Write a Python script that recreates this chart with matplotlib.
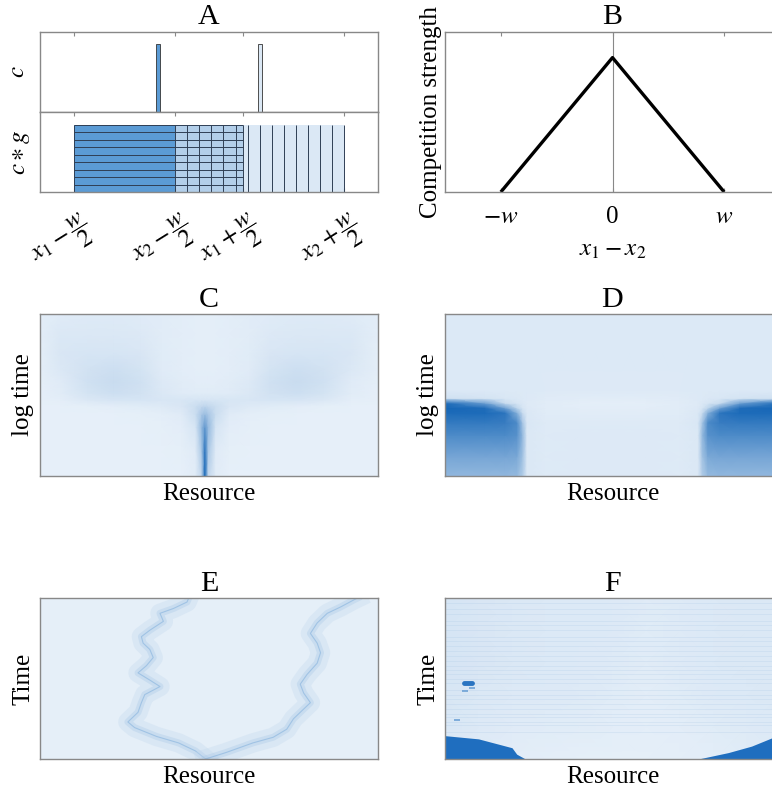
import numpy as np
import matplotlib
matplotlib.use('Agg')
import matplotlib.pyplot as plt
from matplotlib.colors import LinearSegmentedColormap
from matplotlib.transforms import ScaledTranslation
from matplotlib.mathtext import MathTextParser

plt.rcParams['font.family'] = ['Liberation Serif', 'DejaVu Serif']
plt.rcParams['mathtext.fontset'] = 'stix'
plt.rcParams['font.size'] = 18

# ---------------- data ----------------
# panel A: two consumers at x1, x2 with niche width w
x1, x2, w = 0.35, 0.65, 0.5
c_height = 0.85
cg_height = 0.84
a_ticks = [x1 - w / 2, x2 - w / 2, x1 + w / 2, x2 + w / 2]
a_names = [('x_1', '-'), ('x_2', '-'), ('x_1', '+'), ('x_2', '+')]

# panel B: competition kernel
b_x = [-1, 0, 1]
b_y = [0, 0.84, 0]
b_ticklabels = [r'$-w$', '0', r'$w$']

# panel C: density (log time vs resource), node values
xs_c = [0.00, 0.06, 0.14, 0.22, 0.30, 0.36, 0.42, 0.46, 0.478, 0.488, 0.498, 0.52, 0.56, 0.62, 0.68, 0.76, 0.84, 0.92, 1.00]
ys_c = [0.00, 0.15, 0.30, 0.38, 0.43, 0.47, 0.51, 0.58, 0.66, 0.76, 0.88, 1.00]
vals_c = [
    [0.02, 0.02, 0.02, 0.02, 0.02, 0.02, 0.02, 0.04, 0.18, 0.92, 0.18, 0.04, 0.02, 0.02, 0.02, 0.02, 0.02, 0.02, 0.02],
    [0.02, 0.02, 0.02, 0.02, 0.02, 0.02, 0.025, 0.05, 0.28, 0.85, 0.28, 0.05, 0.025, 0.02, 0.02, 0.02, 0.02, 0.02, 0.02],
    [0.02, 0.02, 0.02, 0.02, 0.022, 0.025, 0.035, 0.09, 0.38, 0.62, 0.38, 0.09, 0.035, 0.025, 0.022, 0.02, 0.02, 0.02, 0.02],
    [0.02, 0.02, 0.02, 0.022, 0.025, 0.03, 0.05, 0.14, 0.30, 0.36, 0.30, 0.14, 0.05, 0.03, 0.025, 0.022, 0.02, 0.02, 0.02],
    [0.02, 0.02, 0.025, 0.035, 0.045, 0.055, 0.08, 0.14, 0.18, 0.20, 0.18, 0.14, 0.08, 0.055, 0.045, 0.035, 0.025, 0.02, 0.02],
    [0.02, 0.03, 0.07, 0.09, 0.09, 0.085, 0.085, 0.09, 0.09, 0.09, 0.09, 0.09, 0.085, 0.085, 0.09, 0.09, 0.07, 0.03, 0.02],
    [0.02, 0.04, 0.10, 0.13, 0.11, 0.07, 0.05, 0.045, 0.045, 0.045, 0.045, 0.045, 0.05, 0.07, 0.11, 0.13, 0.10, 0.04, 0.02],
    [0.025, 0.05, 0.12, 0.15, 0.12, 0.06, 0.04, 0.035, 0.035, 0.035, 0.035, 0.035, 0.04, 0.06, 0.12, 0.15, 0.12, 0.05, 0.025],
    [0.03, 0.07, 0.11, 0.13, 0.10, 0.05, 0.035, 0.03, 0.03, 0.03, 0.03, 0.03, 0.035, 0.05, 0.10, 0.13, 0.11, 0.07, 0.03],
    [0.03, 0.08, 0.09, 0.09, 0.08, 0.045, 0.035, 0.03, 0.03, 0.03, 0.03, 0.03, 0.035, 0.045, 0.08, 0.09, 0.09, 0.08, 0.03],
    [0.035, 0.07, 0.07, 0.07, 0.06, 0.04, 0.035, 0.03, 0.03, 0.03, 0.03, 0.03, 0.035, 0.04, 0.06, 0.07, 0.07, 0.07, 0.035],
    [0.035, 0.05, 0.055, 0.055, 0.05, 0.04, 0.035, 0.03, 0.03, 0.03, 0.03, 0.03, 0.035, 0.04, 0.05, 0.055, 0.055, 0.05, 0.035],
]

# panel D
xs_d = [0.00, 0.12, 0.18, 0.215, 0.232, 0.245, 0.30, 0.40, 0.50, 0.60, 0.70, 0.755, 0.768, 0.785, 0.82, 0.88, 1.00]
ys_d = [0.00, 0.12, 0.25, 0.33, 0.39, 0.42, 0.45, 0.48, 0.53, 1.00]
vals_d = [
    [0.40, 0.40, 0.40, 0.38, 0.25, 0.07, 0.055, 0.06, 0.06, 0.06, 0.055, 0.07, 0.25, 0.38, 0.40, 0.40, 0.40],
    [0.52, 0.52, 0.52, 0.50, 0.32, 0.07, 0.055, 0.06, 0.06, 0.06, 0.055, 0.07, 0.32, 0.50, 0.52, 0.52, 0.52],
    [0.70, 0.70, 0.70, 0.66, 0.38, 0.07, 0.055, 0.06, 0.06, 0.06, 0.055, 0.07, 0.38, 0.66, 0.70, 0.70, 0.70],
    [0.82, 0.82, 0.80, 0.70, 0.30, 0.075, 0.055, 0.055, 0.055, 0.055, 0.055, 0.075, 0.30, 0.70, 0.80, 0.82, 0.82],
    [0.92, 0.92, 0.85, 0.45, 0.15, 0.07, 0.045, 0.04, 0.04, 0.04, 0.045, 0.07, 0.15, 0.45, 0.85, 0.92, 0.92],
    [0.95, 0.90, 0.55, 0.20, 0.09, 0.06, 0.04, 0.035, 0.035, 0.035, 0.04, 0.06, 0.09, 0.20, 0.55, 0.90, 0.95],
    [0.90, 0.55, 0.15, 0.09, 0.07, 0.055, 0.04, 0.03, 0.03, 0.03, 0.04, 0.055, 0.07, 0.09, 0.15, 0.55, 0.90],
    [0.12, 0.10, 0.075, 0.07, 0.065, 0.06, 0.05, 0.04, 0.04, 0.04, 0.05, 0.06, 0.065, 0.07, 0.075, 0.10, 0.12],
    [0.065, 0.065, 0.065, 0.065, 0.065, 0.065, 0.06, 0.06, 0.06, 0.06, 0.06, 0.065, 0.065, 0.065, 0.065, 0.065, 0.065],
    [0.065, 0.065, 0.065, 0.065, 0.065, 0.065, 0.065, 0.065, 0.065, 0.065, 0.065, 0.065, 0.065, 0.065, 0.065, 0.065, 0.065],
]

# panel E: two branches (time, resource)
left_t = [0.0, 0.05, 0.10, 0.14, 0.195, 0.23, 0.29, 0.35, 0.40, 0.45, 0.49, 0.535, 0.58, 0.63, 0.68, 0.72, 0.76, 0.80, 0.855, 0.905, 0.935, 0.975, 1.0]
left_x = [0.49, 0.46, 0.41, 0.345, 0.28, 0.26, 0.29, 0.30, 0.31, 0.355, 0.325, 0.29, 0.315, 0.335, 0.325, 0.305, 0.30, 0.325, 0.365, 0.355, 0.395, 0.435, 0.44]
right_t = [0.0, 0.04, 0.10, 0.135, 0.185, 0.25, 0.31, 0.35, 0.41, 0.465, 0.525, 0.595, 0.66, 0.72, 0.78, 0.845, 0.905, 0.945, 0.99, 1.0]
right_x = [0.49, 0.55, 0.63, 0.69, 0.73, 0.75, 0.78, 0.80, 0.78, 0.77, 0.79, 0.82, 0.83, 0.82, 0.80, 0.82, 0.85, 0.89, 0.93, 0.94]

# panel F: background, dark corners, streaks and spots
xs_f = [0.0, 0.1, 0.2, 0.3, 0.4, 0.5, 0.6, 0.7, 0.8, 0.9, 1.0]
ys_f = [0.0, 0.2, 0.4, 0.6, 0.8, 1.0]
vals_f = [
    [0.06, 0.045, 0.035, 0.03, 0.025, 0.025, 0.025, 0.03, 0.035, 0.045, 0.055],
    [0.075, 0.06, 0.05, 0.045, 0.04, 0.035, 0.03, 0.035, 0.045, 0.055, 0.065],
    [0.085, 0.07, 0.06, 0.06, 0.055, 0.045, 0.035, 0.045, 0.06, 0.065, 0.07],
    [0.09, 0.08, 0.07, 0.065, 0.06, 0.055, 0.04, 0.055, 0.065, 0.07, 0.07],
    [0.09, 0.08, 0.07, 0.065, 0.065, 0.06, 0.045, 0.055, 0.065, 0.07, 0.07],
    [0.09, 0.08, 0.07, 0.065, 0.065, 0.06, 0.05, 0.055, 0.065, 0.07, 0.07],
]
fl_x = [0.0, 0.1, 0.2, 0.214, 0.24]
fl_top = [0.145, 0.125, 0.07, 0.03, 0.0]
fr_x = [0.756, 0.846, 0.915, 0.98, 1.0]
fr_top = [0.0, 0.04, 0.08, 0.135, 0.14]
streak_y = [0.97, 0.93, 0.90, 0.86, 0.83, 0.80, 0.76, 0.73, 0.70, 0.67, 0.64, 0.61,
            0.58, 0.55, 0.53, 0.50, 0.47, 0.43, 0.40, 0.37, 0.34, 0.31, 0.28, 0.26, 0.23, 0.21, 0.17]
spot_x = [0.058, 0.082]
spot_y = [0.47, 0.47]
dot_x = [0.035, 0.06, 0.08]
dot_y = [0.24, 0.42, 0.44]

# ---------------- figure ----------------
# display-style fraction if the parser takes \genfrac, else \dfrac
frac = r'\genfrac{}{}{0.5}{0}{w}{2}'
try:
    MathTextParser('path').parse('$' + frac + '$')
except Exception:
    frac = r'\dfrac{w}{2}'
a_ticklabels = ['$' + n + s + frac + '$' for n, s in a_names]

cmap = LinearSegmentedColormap.from_list('blu', ['#eaf2fa', '#0b5fb3'])
gray = '#888888'
W, H = 772, 792
fig = plt.figure(figsize=(W / 100, H / 100), dpi=100)


def add_ax(x0, y0, x1p, y1p):
    return fig.add_axes([x0 / W, 1 - y1p / H, (x1p - x0) / W, (y1p - y0) / H])


def style(ax):
    for s in ax.spines.values():
        s.set_color(gray)
        s.set_linewidth(1)
    ax.tick_params(direction='in', length=3, color=gray, top=True, bottom=True,
                   left=False, right=False, labelleft=False)


def heat(ax, xs, ys, vals):
    X, Y = np.meshgrid(xs, ys)
    ax.pcolormesh(X, Y, np.array(vals), shading='gouraud', cmap=cmap, vmin=0, vmax=1)
    ax.set_xlim(0, 1)
    ax.set_ylim(0, 1)
    style(ax)
    ax.set_xticks([])
    ax.set_yticks([])


# A top: c
axc = add_ax(40, 32, 378, 112)
style(axc)
axc.bar([x1], [c_height], width=0.012, color='#5b9bd5', edgecolor='#333333', linewidth=0.6)
axc.bar([x2], [c_height], width=0.012, color='#dbe8f5', edgecolor='#333333', linewidth=0.6)
axc.set_xlim(0, 1)
axc.set_ylim(0, 1)
axc.set_xticks(a_ticks)
axc.tick_params(labelbottom=False, bottom=False)
axc.set_yticks([])
axc.set_ylabel(r'$c$', labelpad=8)
axc.set_title('A', pad=6)

# A bottom: c*g
axg = add_ax(40, 112, 378, 192)
style(axg)
l1, r1 = x1 - w / 2, x1 + w / 2
l2, r2 = x2 - w / 2, x2 + w / 2
axg.bar([l1], [cg_height], width=w, align='edge', color='#5b9bd5', edgecolor='none')
axg.bar([l2], [cg_height], width=w, align='edge', color='#dbe8f5', edgecolor='none')
ol, orr = max(l1, l2), min(r1, r2)
axg.bar([ol], [cg_height], width=orr - ol, align='edge', color='#b3cfea', edgecolor='none')
axg.hlines(np.linspace(0, cg_height, 10), l1, r1, color='#2f3f55', linewidth=0.7)
axg.vlines(np.linspace(l2, r2, 15), 0, cg_height, color='#2f3f55', linewidth=0.7)
axg.vlines([l1, r1], 0, cg_height, color='#2f3f55', linewidth=0.7)
axg.set_xlim(0, 1)
axg.set_ylim(0, 1)
axg.set_yticks([])
axg.set_xticks(a_ticks)
axg.set_xticklabels(a_ticklabels, rotation=32, ha='center', fontsize=18)
axg.tick_params(axis='x', pad=12)
for lbl in axg.get_xticklabels():
    lbl.set_transform(lbl.get_transform() + ScaledTranslation(-0.12, 0, fig.dpi_scale_trans))
axg.set_ylabel(r'$c \ast g$', labelpad=6)

# B
axb = add_ax(445, 32, 780, 192)
style(axb)
axb.axvline(0, color=gray, linewidth=0.8)
axb.plot(b_x, b_y, color='black', linewidth=2.4, solid_capstyle='butt')
axb.set_xlim(-1.5, 1.5)
axb.set_ylim(0, 1)
axb.set_xticks(b_x)
axb.set_xticklabels(b_ticklabels)
axb.tick_params(axis='x', pad=10)
axb.set_yticks([])
axb.set_xlabel(r'$x_1-x_2$', labelpad=8)
axb.set_ylabel('Competition strength', labelpad=2)
axb.set_title('B', pad=6)

# C
ax = add_ax(40, 314, 378, 476)
heat(ax, xs_c, ys_c, vals_c)
ax.set_title('C', pad=5)
ax.set_xlabel('Resource', labelpad=5)
ax.set_ylabel('log time', labelpad=4)

# D
ax = add_ax(445, 314, 780, 476)
heat(ax, xs_d, ys_d, vals_d)
ax.set_title('D', pad=5)
ax.set_xlabel('Resource', labelpad=5)
ax.set_ylabel('log time', labelpad=4)

# E
ax = add_ax(40, 598, 378, 759)
heat(ax, [0, 1], [0, 1], [[0.025, 0.025], [0.025, 0.025]])
for px, pt in [(left_x, left_t), (right_x, right_t)]:
    ax.plot(px, pt, color='#c4d9ee', linewidth=14, alpha=0.35, solid_joinstyle='round')
    ax.plot(px, pt, color='#a9c8e7', linewidth=5, alpha=0.35, solid_joinstyle='round')
    ax.plot(px, pt, color='#80afdc', linewidth=0.8, alpha=0.55)
ax.set_xlim(0, 1)
ax.set_ylim(0, 1)
ax.set_title('E', pad=5)
ax.set_xlabel('Resource', labelpad=5)
ax.set_ylabel('Time', labelpad=4)

# F
ax = add_ax(445, 598, 780, 759)
heat(ax, xs_f, ys_f, vals_f)
ax.hlines(streak_y, 0, 1, color='#a5c4e4', linewidth=0.5, alpha=0.3)
ax.fill_between(fl_x, 0, fl_top, color='#1f6ebf', linewidth=0)
ax.fill_between(fr_x, 0, fr_top, color='#1f6ebf', linewidth=0)
ax.plot(spot_x, spot_y, color='#2a74c1', linewidth=3.5, solid_capstyle='round')
ax.plot(dot_x, dot_y, linestyle='none', marker='_', markersize=5, markeredgewidth=1.3,
        color='#4d8ccc', alpha=0.7)
ax.set_xlim(0, 1)
ax.set_ylim(0, 1)
ax.set_title('F', pad=5)
ax.set_xlabel('Resource', labelpad=5)
ax.set_ylabel('Time', labelpad=4)

fig.savefig('out.png', dpi=100)
